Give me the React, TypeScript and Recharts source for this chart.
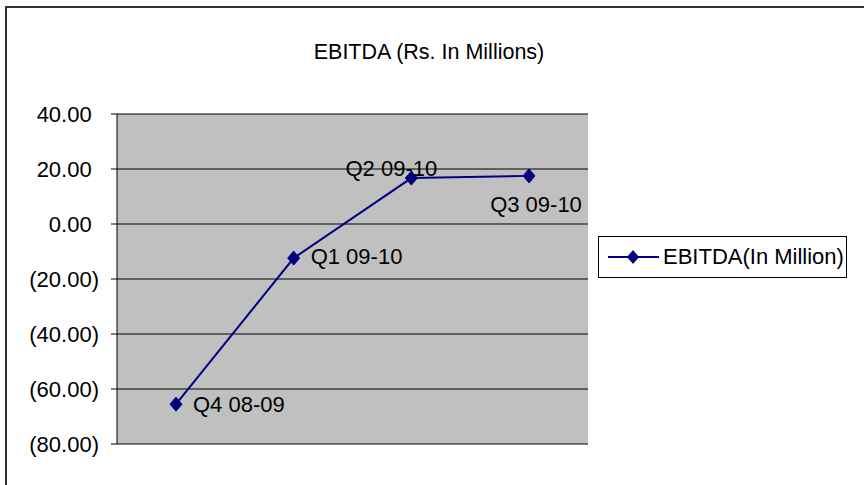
import React from 'react';
import {
  LineChart,
  Line,
  XAxis,
  YAxis,
  CartesianGrid,
  Legend,
  LabelList
} from 'recharts';

// values
const quarters = ['Q4 08-09', 'Q1 09-10', 'Q2 09-10', 'Q3 09-10'];
const ebitda = [-65.5, -12.4, 16.7, 17.5];
const yTicks = [-80, -60, -40, -20, 0, 20, 40];

const chartData = quarters.map((q, i) => ({ quarter: q, ebitda: ebitda[i] }));

// where each data label sits relative to its point (Excel placed them by hand)
const labelOffsets = [
  { dx: 17, dy: 0, anchor: 'start' },
  { dx: 17, dy: -2, anchor: 'start' },
  { dx: -20, dy: -10, anchor: 'middle' },
  { dx: 7, dy: 28, anchor: 'middle' }
];

const FONT = '"Liberation Sans", Arial, sans-serif';
const NAVY = '#000080';
const FRAME = '#808080';

const fmt = (v: number) => (v < 0 ? `(${Math.abs(v).toFixed(2)})` : v.toFixed(2));

const Diamond = (props: any) => {
  const { cx, cy } = props;
  if (cx == null || cy == null) return null;
  return (
    <polygon
      points={`${cx},${cy - 7} ${cx + 6},${cy} ${cx},${cy + 7} ${cx - 6},${cy}`}
      fill={NAVY}
      stroke={NAVY}
    />
  );
};

const YTick = (props: any) => {
  const { x, y, payload } = props;
  const v = payload.value as number;
  // positive numbers leave room for the closing bracket, like Excel does
  const shift = v < 0 ? 0 : -7.3;
  return (
    <text x={x + shift} y={y} dy="0.35em" textAnchor="end" fontSize={22} fontFamily={FONT} fill="#000">
      {fmt(v)}
    </text>
  );
};

const PointLabel = (props: any) => {
  const { x, y, index, value } = props;
  const o = labelOffsets[index] || labelOffsets[0];
  return (
    <text
      x={x + o.dx}
      y={y + o.dy}
      dy="0.35em"
      textAnchor={o.anchor}
      fontSize={22}
      fontFamily={FONT}
      fill="#000"
    >
      {quarters[index] ?? value}
    </text>
  );
};

const LegendBox = () => (
  <div
    style={{
      width: 247,
      height: 40,
      border: '1px solid #000',
      background: '#fff',
      display: 'flex',
      alignItems: 'center',
      fontFamily: FONT,
      fontSize: 22,
      color: '#000'
    }}
  >
    <svg width={64} height={20} style={{ marginLeft: 8 }}>
      <line x1={1} y1={10} x2={52} y2={10} stroke={NAVY} strokeWidth={2} />
      <polygon points="26,3 32,10 26,17 20,10" fill={NAVY} />
    </svg>
    <span style={{ marginLeft: -8, whiteSpace: 'nowrap' }}>EBITDA(In Million)</span>
  </div>
);

const App = () => {
  return (
    <div style={{ position: 'absolute', left: 0, top: 0, width: 864, height: 485, background: '#fff', overflow: 'hidden' }}>
      {/* outer chart frame, only the top and left edges are inside the picture */}
      <div
        style={{
          position: 'absolute',
          left: 5,
          top: 6,
          width: 870,
          height: 490,
          borderTop: '2px solid #333',
          borderLeft: '2px solid #333'
        }}
      />
      <div
        style={{
          position: 'absolute',
          left: 0,
          top: 40,
          width: 858,
          textAlign: 'center',
          fontFamily: FONT,
          fontSize: 21.5,
          lineHeight: '24px',
          color: '#000'
        }}
      >
        EBITDA (Rs. In Millions)
      </div>
      <div style={{ position: 'absolute', left: 0, top: 0 }}>
        <LineChart
          width={864}
          height={485}
          data={chartData}
          margin={{ top: 114, right: 276, bottom: 41, left: 0 }}
        >
          <CartesianGrid vertical={false} stroke="#000" fill="#C0C0C0" fillOpacity={1} />
          <XAxis
            dataKey="quarter"
            height={0}
            tick={false}
            tickLine={false}
            axisLine={{ stroke: FRAME, strokeWidth: 2 }}
            padding={{ left: 59, right: 59 }}
          />
          <XAxis
            xAxisId="frameTop"
            dataKey="quarter"
            orientation="top"
            height={0}
            tick={false}
            tickLine={false}
            axisLine={{ stroke: FRAME, strokeWidth: 2 }}
          />
          <YAxis
            yAxisId="frameRight"
            orientation="right"
            width={0}
            domain={[-80, 40]}
            tick={false}
            tickLine={false}
            axisLine={{ stroke: FRAME, strokeWidth: 2 }}
          />
          <YAxis
            width={117}
            domain={[-80, 40]}
            ticks={yTicks}
            interval={0}
            tickSize={6}
            tickMargin={12}
            axisLine={{ stroke: '#000' }}
            tickLine={{ stroke: '#000' }}
            tick={<YTick />}
          />
          <Legend
            layout="vertical"
            align="center"
            verticalAlign="middle"
            content={<LegendBox />}
            wrapperStyle={{ left: 598, top: 236, width: 249, height: 42 }}
          />
          <Line
            type="linear"
            dataKey="ebitda"
            name="EBITDA(In Million)"
            stroke={NAVY}
            strokeWidth={2}
            dot={<Diamond />}
            activeDot={false}
            isAnimationActive={false}
          >
            <LabelList dataKey="quarter" content={<PointLabel />} />
          </Line>
        </LineChart>
      </div>
    </div>
  );
};

export default App;
